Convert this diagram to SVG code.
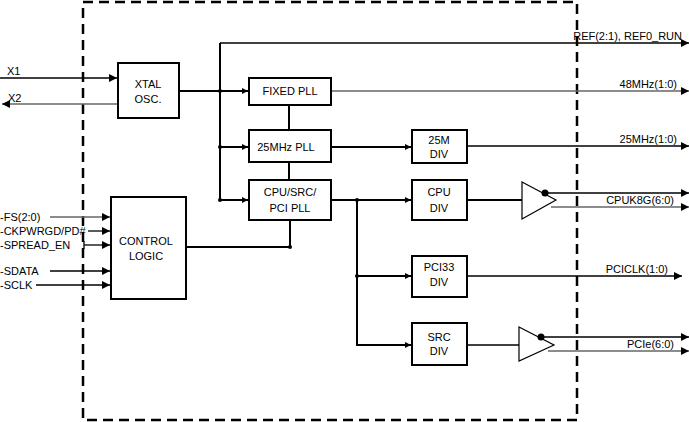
<svg xmlns="http://www.w3.org/2000/svg" width="689" height="422" viewBox="0 0 689 422">
<defs>
<marker id="a" viewBox="0 0 10 10" refX="10" refY="5" markerWidth="8" markerHeight="8" markerUnits="userSpaceOnUse" orient="auto"><path d="M0,0L10,5L0,10z" fill="#000"/></marker>
<marker id="s" viewBox="0 0 10 10" refX="10" refY="5" markerWidth="6" markerHeight="6" markerUnits="userSpaceOnUse" orient="auto"><path d="M0,0L10,5L0,10z" fill="#000"/></marker>
</defs>
<style>
.b{fill:#fff;stroke:#000;stroke-width:2}
.t{font-family:"Liberation Sans",Arial,sans-serif;font-size:11px;fill:#000}
.c{text-anchor:middle}
.r{text-anchor:end}
.l{fill:none;stroke:#000;stroke-width:1.3}
.k{fill:none;stroke:#000;stroke-width:2}
.g{fill:none;stroke:#666;stroke-width:1.5}
</style>
<rect x="83" y="2" width="494" height="418" fill="none" stroke="#000" stroke-width="2.5" stroke-dasharray="10,6"/>
<g id="connectors">
<path class="l" d="M0,78H117" marker-end="url(#a)"/>
<path class="g" d="M118,104H2" marker-end="url(#a)"/>
<path class="k" d="M179,91H220M220,43V200"/>
<path class="l" d="M220,43H689" marker-end="url(#a)"/>
<path class="k" d="M220,91H248" marker-end="url(#s)"/>
<path class="k" d="M220,147H248" marker-end="url(#s)"/>
<path class="k" d="M220,200H248" marker-end="url(#s)"/>
<path class="k" d="M289,105V130M289,162V180"/>
<path class="g" d="M331,91H689" marker-end="url(#a)"/>
<path class="k" d="M331,147H411" marker-end="url(#s)"/>
<path class="l" d="M467,146H689" marker-end="url(#a)"/>
<path class="k" d="M331,200H411" marker-end="url(#s)"/>
<path class="k" d="M357,200V345H411" marker-end="url(#s)"/>
<path class="k" d="M357,276H411" marker-end="url(#s)"/>
<path class="l" d="M467,276H682" marker-end="url(#a)"/>
<path class="k" d="M467,200H522"/>
<path class="l" d="M545,193H689" marker-end="url(#a)"/>
<path class="g" d="M551,207H689" marker-end="url(#a)"/>
<path class="l" d="M467,345H519"/>
<path class="l" d="M541,337H689" marker-end="url(#a)"/>
<path class="g" d="M548,351H689" marker-end="url(#a)"/>
<path class="g" d="M50,217H110" marker-end="url(#a)"/>
<path class="l" d="M88,231H110" marker-end="url(#a)"/>
<path class="l" d="M84,245H110" marker-end="url(#a)"/>
<path class="l" d="M84,241V249"/>
<path class="l" d="M50,271H110" marker-end="url(#a)"/>
<path class="l" d="M36,285H110" marker-end="url(#a)"/>
<path class="k" d="M186,247H290V220"/>
<circle cx="220" cy="91" r="2"/><circle cx="220" cy="147" r="2"/><circle cx="220" cy="200" r="2"/>
<circle cx="357" cy="200" r="2"/><circle cx="357" cy="276" r="2"/><circle cx="290" cy="247" r="2"/>
</g>
<g id="xtal"><rect class="b" x="118" y="63" width="61" height="55"/><text class="t c" x="148" y="88">XTAL</text><text class="t c" x="148" y="103">OSC.</text></g>
<g id="fixedpll"><rect class="b" x="249" y="78" width="82" height="27"/><text class="t c" x="290" y="95">FIXED PLL</text></g>
<g id="pll25"><rect class="b" x="249" y="130" width="82" height="32"/><text class="t c" x="286" y="151">25MHz PLL</text></g>
<g id="cpupll"><rect class="b" x="249" y="180" width="82" height="40"/><text class="t c" x="290" y="196">CPU/SRC/</text><text class="t c" x="290" y="212">PCI PLL</text></g>
<g id="div25"><rect class="b" x="412" y="130" width="55" height="33"/><text class="t c" x="439" y="144">25M</text><text class="t c" x="439" y="158">DIV</text></g>
<g id="cpudiv"><rect class="b" x="412" y="180" width="55" height="40"/><text class="t c" x="439" y="196">CPU</text><text class="t c" x="439" y="212">DIV</text></g>
<g id="pcidiv"><rect class="b" x="412" y="256" width="55" height="41"/><text class="t c" x="439" y="271">PCI33</text><text class="t c" x="439" y="286">DIV</text></g>
<g id="srcdiv"><rect class="b" x="412" y="323" width="55" height="42"/><text class="t c" x="439" y="341">SRC</text><text class="t c" x="439" y="355">DIV</text></g>
<g id="ctrl"><rect class="b" x="111" y="197" width="75" height="102"/><text class="t c" x="146" y="245">CONTROL</text><text class="t c" x="146" y="260">LOGIC</text></g>
<g id="buf1"><path d="M522,182L556,200L522,219z" fill="#fff" stroke="#000" stroke-width="1.2"/><circle cx="545" cy="193" r="3.5"/></g>
<g id="buf2"><path d="M519,327L554,345L519,361z" fill="#fff" stroke="#000" stroke-width="1.2"/><circle cx="541" cy="337" r="3.5"/></g>
<g id="labels">
<text class="t" x="7" y="75">X1</text>
<text class="t" x="8" y="102">X2</text>
<text class="t" x="0" y="221">-FS(2:0)</text>
<text class="t" x="0" y="235">-CKPWRGD/PD#</text>
<text class="t" x="0" y="249">-SPREAD_EN</text>
<text class="t" x="0" y="275">-SDATA</text>
<text class="t" x="0" y="289">-SCLK</text>
<text class="t r" x="682" y="40">REF(2:1), REF0_RUN</text>
<text class="t r" x="677" y="88">48MHz(1:0)</text>
<text class="t r" x="677" y="143">25MHz(1:0)</text>
<text class="t r" x="674" y="204">CPUK8G(6:0)</text>
<text class="t r" x="668" y="273">PCICLK(1:0)</text>
<text class="t r" x="674" y="348">PCIe(6:0)</text>
</g>
</svg>
